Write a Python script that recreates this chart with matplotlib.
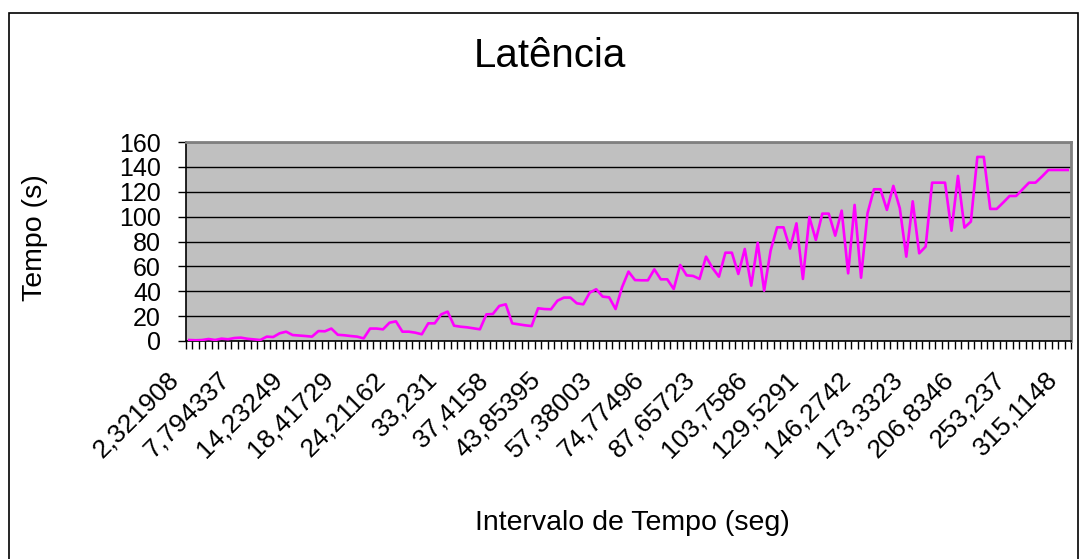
import numpy as np
import matplotlib
matplotlib.use("Agg")
import matplotlib.pyplot as plt
import matplotlib.transforms as mtransforms
from matplotlib.patches import Rectangle

plt.rcParams['font.family'] = ['Liberation Sans', 'DejaVu Sans']

# latencia (s) por intervalo (137 pontos)
latencia = [
    0.8, 0.6, 0.8, 1.6, 0.8, 1.9, 1.4, 2.4, 2.7, 1.8,
    1.3, 0.8, 3.5, 3.2, 6.2, 7.5, 4.8, 4.4, 4.0, 3.5,
    8.0, 7.8, 10.0, 5.0, 4.6, 4.0, 3.5, 2.1, 10.0, 10.0,
    9.4, 14.7, 15.8, 7.5, 7.5, 6.7, 5.4, 14.2, 14.2, 21.4,
    23.6, 12.3, 11.5, 11.0, 10.2, 9.4, 21.4, 21.7, 28.2, 29.5,
    14.2, 13.4, 12.6, 12.0, 26.3, 25.7, 25.5, 32.4, 34.9, 34.9,
    30.3, 29.5, 38.9, 41.6, 35.7, 35.1, 25.7, 43.2, 55.8, 49.0,
    48.8, 48.8, 57.6, 49.6, 49.6, 41.8, 61.1, 52.8, 52.3, 49.9,
    67.8, 58.7, 51.7, 71.0, 71.0, 53.9, 74.0, 44.5, 79.0, 40.5,
    72.7, 91.4, 91.4, 74.3, 94.6, 49.9, 99.7, 81.2, 102.4, 102.4,
    84.7, 104.8, 54.4, 109.4, 50.9, 102.7, 122.0, 122.0, 105.4, 124.7,
    106.7, 67.8, 112.3, 70.5, 75.9, 127.3, 127.3, 127.3, 88.7, 132.7,
    91.2, 96.0, 148.0, 148.0, 106.2, 106.2, 111.3, 116.6, 116.6, 122.0,
    127.3, 127.3, 132.2, 137.5, 137.5, 137.5, 137.5,
]

# rotulos visiveis do eixo x (um a cada 8 intervalos)
rotulos = [
    "2,321908", "7,794337", "14,23249", "18,41729", "24,21162", "33,231",
    "37,4158", "43,85395", "57,38003", "74,77496", "87,65723", "103,7586",
    "129,5291", "146,2742", "173,3323", "206,8346", "253,237", "315,1148",
]
passo = 8

fig = plt.figure(figsize=(10.82, 5.59), dpi=100)
ax = fig.add_axes([186 / 1082, 1 - 341 / 559, (1071 - 186) / 1082, (341 - 142) / 559])

x = np.arange(len(latencia))
ax.plot(x, latencia, color="#FF00FF", lw=1.9, zorder=3)

ax.set_facecolor("#C0C0C0")
ax.set_xlim(-0.5, len(latencia) - 0.5)
ax.set_ylim(0, 160)
ax.set_yticks(np.arange(0, 161, 20))
ax.yaxis.grid(True, color="black", lw=1.0)
ax.set_axisbelow(True)

# marcas entre categorias, rotulos a cada 8
ax.set_xticks(np.arange(-0.5, len(latencia), 1), minor=True)
ax.set_xticks(x[::passo])
ax.set_xticklabels(rotulos, rotation=45, ha="right", va="top",
                   rotation_mode="anchor", fontsize=19)
ax.tick_params(axis="x", which="major", length=0, pad=19)
ax.tick_params(axis="x", which="minor", length=6, width=1, color="black")
ax.tick_params(axis="y", length=6, width=1, labelsize=18, pad=12)

desloc = mtransforms.ScaledTranslation(-23 / 100, 0, fig.dpi_scale_trans)
for lab in ax.get_xticklabels():
    lab.set_transform(lab.get_transform() + desloc)

for s in ["left", "bottom"]:
    ax.spines[s].set_color("black")
    ax.spines[s].set_linewidth(1.2)
for s in ["top", "right"]:
    ax.spines[s].set_color("#808080")
    ax.spines[s].set_linewidth(2)

fig.text(550 / 1082, 1 - 56 / 559, "Latência", ha="center", va="center", fontsize=29)
fig.text(35 / 1082, 1 - 238 / 559, "Tempo (s)", ha="center", va="center",
         rotation=90, fontsize=20.5)
fig.text(632 / 1082, 1 - 523 / 559, "Intervalo de Tempo (seg)", ha="center",
         va="center", fontsize=20.5)

fig.patches.append(Rectangle((9 / 1082, -0.01), (1078 - 9) / 1082, 1.01 - 13 / 559,
                             transform=fig.transFigure, fill=False,
                             edgecolor="black", lw=1.2))

fig.savefig("out.png", dpi=100)
